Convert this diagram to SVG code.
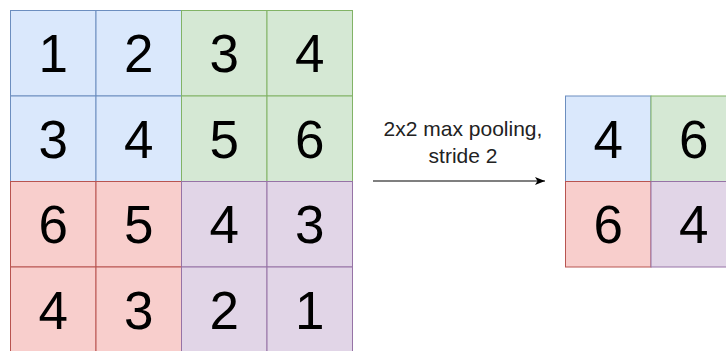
<svg xmlns="http://www.w3.org/2000/svg" width="726" height="351" viewBox="0 0 726 351">
<style>
.b{fill:#dae8fc;stroke:#6c8ebf}
.g{fill:#d5e8d4;stroke:#82b366}
.r{fill:#f8cecc;stroke:#b85450}
.p{fill:#e1d5e7;stroke:#9673a6}
.n{font-family:"Liberation Sans",Arial,sans-serif;font-size:53px;fill:#000;text-anchor:middle}
.l{font-family:"Liberation Sans",Arial,sans-serif;font-size:21px;fill:#222;text-anchor:middle}
</style>
<defs>
<marker id="ah" viewBox="0 0 10 10" refX="10" refY="5" markerWidth="10" markerHeight="10" markerUnits="userSpaceOnUse" orient="auto">
<path d="M0,1 L10,5 L0,9 L2.5,5 Z" fill="#000"/>
</marker>
</defs>
<g id="input">
<g id="c00"><rect class="b" x="10.5" y="10.5" width="85.5" height="85.5"/><text class="n" x="53.25" y="72">1</text></g>
<g id="c01"><rect class="b" x="96" y="10.5" width="85.5" height="85.5"/><text class="n" x="138.75" y="72">2</text></g>
<g id="c02"><rect class="g" x="181.5" y="10.5" width="85.5" height="85.5"/><text class="n" x="224.25" y="72">3</text></g>
<g id="c03"><rect class="g" x="267" y="10.5" width="85.5" height="85.5"/><text class="n" x="309.75" y="72">4</text></g>
<g id="c10"><rect class="b" x="10.5" y="96" width="85.5" height="85.5"/><text class="n" x="53.25" y="157.5">3</text></g>
<g id="c11"><rect class="b" x="96" y="96" width="85.5" height="85.5"/><text class="n" x="138.75" y="157.5">4</text></g>
<g id="c12"><rect class="g" x="181.5" y="96" width="85.5" height="85.5"/><text class="n" x="224.25" y="157.5">5</text></g>
<g id="c13"><rect class="g" x="267" y="96" width="85.5" height="85.5"/><text class="n" x="309.75" y="157.5">6</text></g>
<g id="c20"><rect class="r" x="10.5" y="181.5" width="85.5" height="85.5"/><text class="n" x="53.25" y="243">6</text></g>
<g id="c21"><rect class="r" x="96" y="181.5" width="85.5" height="85.5"/><text class="n" x="138.75" y="243">5</text></g>
<g id="c22"><rect class="p" x="181.5" y="181.5" width="85.5" height="85.5"/><text class="n" x="224.25" y="243">4</text></g>
<g id="c23"><rect class="p" x="267" y="181.5" width="85.5" height="85.5"/><text class="n" x="309.75" y="243">3</text></g>
<g id="c30"><rect class="r" x="10.5" y="267" width="85.5" height="85.5"/><text class="n" x="53.25" y="328.5">4</text></g>
<g id="c31"><rect class="r" x="96" y="267" width="85.5" height="85.5"/><text class="n" x="138.75" y="328.5">3</text></g>
<g id="c32"><rect class="p" x="181.5" y="267" width="85.5" height="85.5"/><text class="n" x="224.25" y="328.5">2</text></g>
<g id="c33"><rect class="p" x="267" y="267" width="85.5" height="85.5"/><text class="n" x="309.75" y="328.5">1</text></g>
</g>
<g id="output">
<g id="o00"><rect class="b" x="565.5" y="96" width="85.5" height="85.5"/><text class="n" x="608.25" y="157.5">4</text></g>
<g id="o01"><rect class="g" x="651" y="96" width="85.5" height="85.5"/><text class="n" x="693.75" y="157.5">6</text></g>
<g id="o10"><rect class="r" x="565.5" y="181.5" width="85.5" height="85.5"/><text class="n" x="608.25" y="243">6</text></g>
<g id="o11"><rect class="p" x="651" y="181.5" width="85.5" height="85.5"/><text class="n" x="693.75" y="243">4</text></g>
</g>
<g id="connectors">
<line x1="373" y1="181" x2="545" y2="181" stroke="#000" stroke-width="1.2" marker-end="url(#ah)"/>
<text class="l" x="463" y="136">2x2 max pooling,</text>
<text class="l" x="463" y="163">stride 2</text>
</g>
</svg>
